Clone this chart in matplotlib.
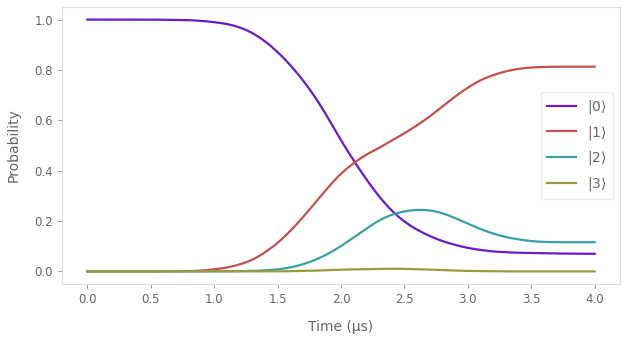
import matplotlib
matplotlib.use("Agg")
import matplotlib.pyplot as plt
import numpy as np

# values
time_us = [0.0, 0.5, 0.8, 0.9, 1.0, 1.1, 1.2, 1.3, 1.4, 1.5, 1.6, 1.7, 1.8, 1.9,
           2.0, 2.1, 2.2, 2.3, 2.4, 2.5, 2.6, 2.7, 2.8, 2.9, 3.0, 3.1, 3.2,
           3.3, 3.4, 3.5, 3.6, 3.7, 3.8, 3.9, 4.0]
p0 = [1.0, 1.0, 0.998, 0.995, 0.99, 0.983, 0.97, 0.948, 0.915, 0.872, 0.82, 0.76,
      0.69, 0.608, 0.52, 0.44, 0.365, 0.297, 0.24, 0.197, 0.165, 0.14, 0.12, 0.105,
      0.093, 0.085, 0.079, 0.076, 0.074, 0.073, 0.072, 0.071, 0.071, 0.07, 0.07]
p1 = [0.0, 0.0, 0.001, 0.003, 0.008, 0.015, 0.027, 0.045, 0.075, 0.112, 0.16, 0.215,
      0.275, 0.335, 0.39, 0.43, 0.465, 0.49, 0.52, 0.548, 0.58, 0.615, 0.655, 0.695,
      0.73, 0.76, 0.78, 0.795, 0.805, 0.81, 0.812, 0.813, 0.813, 0.813, 0.813]
p2 = [0.0, 0.0, 0.0, 0.0, 0.0, 0.0, 0.001, 0.002, 0.004, 0.008, 0.015, 0.028,
      0.046, 0.07, 0.1, 0.135, 0.17, 0.203, 0.226, 0.239, 0.245, 0.243, 0.232, 0.212,
      0.19, 0.168, 0.15, 0.136, 0.127, 0.12, 0.117, 0.116, 0.116, 0.116, 0.116]
p3 = [0.0, 0.0, 0.0, 0.0, 0.0, 0.0, 0.0, 0.0, 0.0, 0.0, 0.001, 0.002, 0.003, 0.005,
      0.007, 0.008, 0.009, 0.01, 0.011, 0.01, 0.009, 0.007, 0.005, 0.003, 0.002,
      0.001, 0.001, 0.0, 0.0, 0.0, 0.0, 0.0, 0.0, 0.0, 0.0]
labels = [r"|0$\rangle$", r"|1$\rangle$", r"|2$\rangle$", r"|3$\rangle$"]
colors = ["#6a1bc9", "#c4504f", "#3aa0a4", "#9a9b3a"]

txt = "#666666"
plt.rcParams["font.family"] = "DejaVu Sans"

fig = plt.figure(figsize=(6.27, 3.4), dpi=100)
ax = fig.add_axes([62/627, 1-284/340, 558/627, 277/340])

tt = np.linspace(0, 4, 401)
for ys, lab, c in zip([p0, p1, p2, p3], labels, colors):
    yy = np.interp(tt, time_us, ys)
    # light smoothing of the read-off points
    k = np.ones(11) / 11
    yy = np.convolve(np.pad(yy, 5, mode="edge"), k, mode="valid")
    ax.plot(tt, yy, color=c, lw=1.6, label=lab)

ax.set_xticks(np.arange(0, 4.01, 0.5))
ax.set_yticks(np.arange(0, 1.01, 0.2))
ax.set_xlabel("Time (μs)", color=txt, fontsize=10, labelpad=10)
ax.set_ylabel("Probability", color=txt, fontsize=10, labelpad=10)
ax.tick_params(colors=txt, labelsize=8.5, length=3, width=0.6)
ax.tick_params(axis="both", color="#888888")
for s in ax.spines.values():
    s.set_color("#dddddd")
    s.set_linewidth(0.8)

leg = ax.legend(loc="center right", fontsize=10, frameon=True,
                borderpad=0.47, labelspacing=0.55, handlelength=2.1,
                handletextpad=0.75)
leg.get_frame().set_edgecolor("#e6e6e6")
for t in leg.get_texts():
    t.set_color(txt)

fig.savefig("out.png", dpi=100)
